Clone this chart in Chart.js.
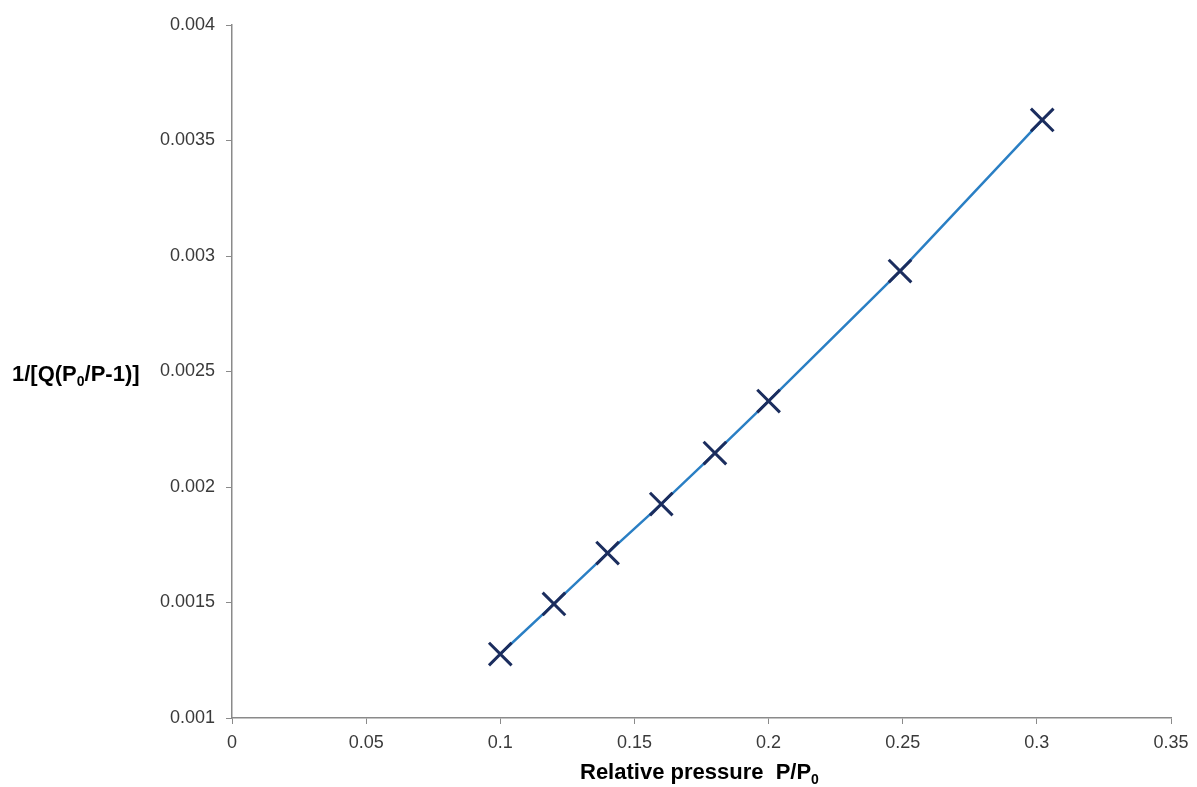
<!DOCTYPE html>
<html>
<head>
<meta charset="utf-8">
<script src="https://cdn.jsdelivr.net/npm/chart.js@4/dist/chart.umd.min.js"></script>
<style>
    html, body { margin: 0; padding: 0; background: #fff; }
    #wrap { width: 1197px; height: 787px; position: relative; }
</style>
</head>
<body>
<div id="wrap"><canvas id="bet"></canvas></div>
<script>
// relative pressure P/P0 and BET term 1/[Q(P0/P-1)]
const relPressure = [0.1, 0.12, 0.14, 0.16, 0.18, 0.2, 0.249, 0.302];
const betTerm = [0.001277, 0.001494, 0.001714, 0.001926, 0.002147, 0.002372, 0.002935, 0.003589];
const xTickLabels = ['0', '0.05', '0.1', '0.15', '0.2', '0.25', '0.3', '0.35'];
const yTickLabels = ['0.001', '0.0015', '0.002', '0.0025', '0.003', '0.0035', '0.004'];

const fontFamily = '"Liberation Sans", Arial, sans-serif';

// draws a label with subscript parts: [text, sub, text, ...]
function drawWithSub(ctx, parts, x, y) {
    let cx = x;
    parts.forEach((p, i) => {
        const isSub = i % 2 === 1;
        ctx.font = isSub ? 'bold 14px ' + fontFamily : 'bold 22px ' + fontFamily;
        ctx.fillText(p, cx, isSub ? y + 5 : y);
        cx += ctx.measureText(p).width;
    });
}

const axisTitles = {
    id: 'axisTitles',
    afterDraw(chart) {
        const ctx = chart.ctx;
        ctx.save();
        ctx.fillStyle = '#000';
        ctx.textBaseline = 'alphabetic';
        ctx.textAlign = 'left';
        drawWithSub(ctx, ['1/[Q(P', '0', '/P-1)]'], 12, 381);
        drawWithSub(ctx, ['Relative pressure  P/P', '0'], 580, 779);
        ctx.restore();
    }
};

const points = relPressure.map((x, i) => ({ x: x, y: betTerm[i] }));

new Chart(document.getElementById('bet').getContext('2d'), {
    type: 'scatter',
    data: {
        datasets: [{
            data: points,
            showLine: true,
            borderColor: '#2a7fc4',
            borderWidth: 2.5,
            pointStyle: 'crossRot',
            pointRadius: 16,
            pointHoverRadius: 16,
            pointBorderColor: '#1b2d5e',
            pointBorderWidth: 3
        }]
    },
    options: {
        responsive: true,
        maintainAspectRatio: false,
        animation: false,
        layout: { padding: { top: 25, right: 26, left: 0, bottom: 0 } },
        plugins: {
            legend: { display: false },
            tooltip: { enabled: false }
        },
        scales: {
            x: {
                type: 'linear',
                min: 0,
                max: 0.35,
                afterFit: (scale) => { scale.height = 69; },
                afterBuildTicks: (scale) => {
                    scale.ticks = xTickLabels.map(v => ({ value: parseFloat(v) }));
                },
                ticks: {
                    callback: (v, i) => xTickLabels[i],
                    color: '#3a3a3a',
                    font: { family: fontFamily, size: 18 },
                    padding: 8,
                    maxRotation: 0
                },
                grid: { drawOnChartArea: false, drawTicks: true, tickLength: 6, color: '#8a8a8a' },
                border: { display: true, color: '#8a8a8a', width: 1.5 }
            },
            y: {
                type: 'linear',
                min: 0.001,
                max: 0.004,
                afterFit: (scale) => { scale.width = 232; },
                afterBuildTicks: (scale) => {
                    scale.ticks = yTickLabels.map(v => ({ value: parseFloat(v) }));
                },
                ticks: {
                    callback: (v, i) => yTickLabels[i],
                    color: '#3a3a3a',
                    font: { family: fontFamily, size: 18 },
                    padding: 11
                },
                grid: { drawOnChartArea: false, drawTicks: true, tickLength: 6, color: '#8a8a8a' },
                border: { display: true, color: '#8a8a8a', width: 1.5 }
            }
        }
    },
    plugins: [axisTitles]
});
</script>
</body>
</html>
